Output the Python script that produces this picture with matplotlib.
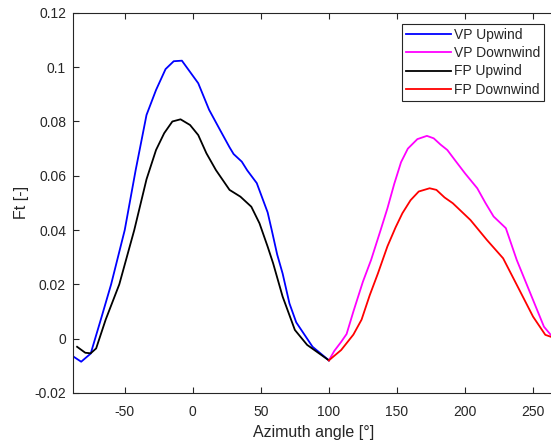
import matplotlib
matplotlib.use("Agg")
import matplotlib.pyplot as plt

# azimuth [deg] / Ft [-]
vp_up_x = [-88, -82, -75, -67, -60, -50, -42, -34, -27, -20, -14, -8, 4, 12, 20, 27, 30, 36, 40, 47, 55, 58, 62, 66, 71, 76, 80, 88, 100]
vp_up_y = [-0.0065, -0.0085, -0.0055, 0.008, 0.020, 0.040, 0.062, 0.0824, 0.0916, 0.0993, 0.1022, 0.1024, 0.0941, 0.0843, 0.0769, 0.0705, 0.0680, 0.0652, 0.0620, 0.0573, 0.0465, 0.040, 0.031, 0.024, 0.013, 0.006, 0.003, -0.003, -0.008]

fp_up_x = [-85, -79, -75, -71, -64, -54, -43, -34, -27, -21, -15, -9, -2, 4, 10, 17, 27, 35, 43, 49, 55, 59, 66, 75, 84, 100]
fp_up_y = [-0.003, -0.0052, -0.0054, -0.0036, 0.007, 0.020, 0.040, 0.0587, 0.0695, 0.0757, 0.080, 0.0808, 0.0787, 0.075, 0.0683, 0.0621, 0.0548, 0.0523, 0.0486, 0.0425, 0.0339, 0.0278, 0.0155, 0.0032, -0.0023, -0.008]

vp_down_x = [100, 104, 109, 113, 118, 125, 131, 138, 143, 148, 153, 158, 165, 172, 177, 182, 187, 193, 200, 209, 215, 221, 230, 238, 248, 258, 263]
vp_down_y = [-0.008, -0.0045, -0.0012, 0.0017, 0.010, 0.021, 0.029, 0.040, 0.048, 0.057, 0.065, 0.070, 0.0735, 0.0747, 0.0738, 0.0715, 0.0695, 0.0655, 0.0609, 0.0554, 0.050, 0.045, 0.0407, 0.029, 0.0167, 0.0044, 0.0014]

fp_down_x = [100, 109, 118, 124, 130, 136, 143, 149, 154, 160, 166, 174, 179, 185, 191, 204, 216, 228, 240, 250, 259, 263]
fp_down_y = [-0.008, -0.0042, 0.0015, 0.007, 0.016, 0.024, 0.034, 0.041, 0.0462, 0.051, 0.0542, 0.0554, 0.0548, 0.052, 0.0499, 0.0437, 0.0364, 0.0296, 0.0179, 0.0081, 0.0014, 0.0007]

xticks = [-50, 0, 50, 100, 150, 200, 250]
yticks = [-0.02, 0, 0.02, 0.04, 0.06, 0.08, 0.1, 0.12]
ytick_labels = ['-0.02', '0', '0.02', '0.04', '0.06', '0.08', '0.1', '0.12']

gris = '#262626'
plt.rcParams['font.family'] = ['Liberation Sans', 'DejaVu Sans']
plt.rcParams['font.size'] = 10
plt.rcParams['axes.unicode_minus'] = False

fig = plt.figure(figsize=(5.51, 4.45), dpi=100)
ax = fig.add_axes([0.1325, 0.117, 0.872, 0.854])

ax.plot(vp_up_x, vp_up_y, color='#0000ff', lw=1.3, label='VP Upwind')
ax.plot(vp_down_x, vp_down_y, color='#ff00ff', lw=1.3, label='VP Downwind')
ax.plot(fp_up_x, fp_up_y, color='#000000', lw=1.3, label='FP Upwind')
ax.plot(fp_down_x, fp_down_y, color='#ff0000', lw=1.3, label='FP Downwind')

ax.set_xlim(-88, 265)
ax.set_ylim(-0.02, 0.12)
ax.set_xticks(xticks)
ax.set_yticks(yticks)
ax.set_yticklabels(ytick_labels)
ax.tick_params(direction='in', length=4, width=0.8, colors=gris, labelcolor=gris,
               top=True, right=False, labelsize=10)
ax.tick_params(axis='x', pad=9)
ax.tick_params(axis='y', pad=5)
ax.spines['right'].set_visible(False)
for s in ax.spines.values():
    s.set_color(gris)
    s.set_linewidth(0.8)

ax.set_xlabel('Azimuth angle [°]', color=gris, fontsize=11.5, labelpad=4)
ax.set_ylabel('Ft [-]', color=gris, fontsize=11.5, labelpad=4)

leg = ax.legend(loc='upper right', bbox_to_anchor=(544 / 551, 1 - 24 / 445),
                bbox_transform=fig.transFigure, borderaxespad=0, fancybox=False,
                framealpha=1, edgecolor=gris, handlelength=3.2, handletextpad=0.2,
                labelspacing=0.3, borderpad=0.3, fontsize=10)
leg.get_frame().set_linewidth(0.8)
for t in leg.get_texts():
    t.set_color(gris)

fig.savefig('out.png', dpi=100)
